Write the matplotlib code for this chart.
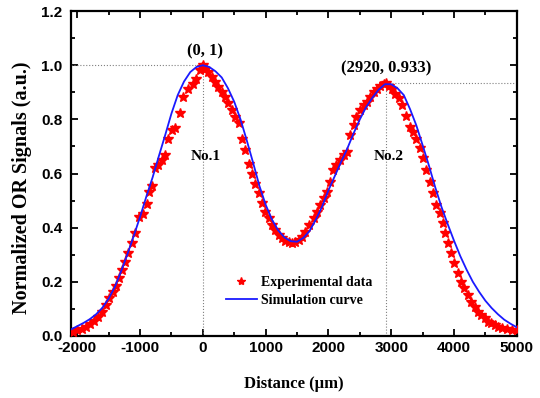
import matplotlib
matplotlib.use("Agg")
import matplotlib.pyplot as plt
from matplotlib.ticker import MultipleLocator, FormatStrFormatter

plt.rcParams['axes.unicode_minus'] = False

# experimental data (distance in um, normalized signal)
exp_x = [-2064, -2000, -1930, -1861, -1797, -1734, -1665, -1601, -1542, -1490,
         -1435, -1383, -1330, -1292, -1239, -1187, -1132, -1080, -1010, -957,
         -893, -852, -805, -761, -708, -654, -601, -549, -494, -442,
         -362, -309, -230, -159, -107, -43, -16, 0, 37, 89,
         144, 196, 249, 303, 356, 408, 462, 515, 568, 622,
         675, 727, 781, 834, 887, 941, 994, 1046, 1100, 1153,
         1206, 1260, 1313, 1365, 1419, 1472, 1525, 1579, 1632, 1684,
         1764, 1818, 1871, 1923, 1978, 2030, 2073, 2126, 2179, 2243,
         2297, 2349, 2402, 2445, 2509, 2561, 2616, 2668, 2721, 2775,
         2828, 2880, 2920, 2960, 3014, 3067, 3120, 3173, 3242, 3295,
         3349, 3402, 3455, 3509, 3561, 3614, 3668, 3721, 3774, 3828,
         3864, 3901, 3955, 4008, 4061, 4115, 4167, 4220, 4274, 4327,
         4380, 4434, 4486, 4539, 4593, 4646, 4699, 4769, 4849, 4928, 5000]
exp_y = [0.016, 0.020, 0.025, 0.034, 0.044, 0.056, 0.071, 0.090, 0.114, 0.139,
         0.163, 0.184, 0.213, 0.244, 0.274, 0.305, 0.342, 0.379, 0.440, 0.452,
         0.489, 0.532, 0.555, 0.619, 0.631, 0.649, 0.668, 0.726, 0.760, 0.770,
         0.822, 0.883, 0.914, 0.932, 0.951, 0.982, 0.994, 1.000, 0.988, 0.975,
         0.957, 0.938, 0.920, 0.901, 0.883, 0.859, 0.834, 0.809, 0.785, 0.729,
         0.686, 0.637, 0.600, 0.563, 0.527, 0.490, 0.459, 0.434, 0.410, 0.391,
         0.373, 0.360, 0.352, 0.347, 0.344, 0.347, 0.354, 0.366, 0.385, 0.410,
         0.434, 0.459, 0.483, 0.508, 0.532, 0.569, 0.613, 0.631, 0.649, 0.668,
         0.680, 0.742, 0.779, 0.809, 0.834, 0.852, 0.865, 0.883, 0.901, 0.914,
         0.923, 0.930, 0.933, 0.925, 0.912, 0.895, 0.880, 0.852, 0.812, 0.772,
         0.754, 0.729, 0.693, 0.656, 0.613, 0.569, 0.527, 0.483, 0.453, 0.416,
         0.379, 0.342, 0.305, 0.268, 0.231, 0.200, 0.176, 0.151, 0.127, 0.108,
         0.090, 0.077, 0.065, 0.053, 0.047, 0.041, 0.034, 0.028, 0.025, 0.022, 0.020]

# simulation curve sampled every 100 um
sim_x = list(range(-2100, 5001, 100))
sim_y = [0.024, 0.036, 0.048, 0.062, 0.080, 0.104, 0.138, 0.182, 0.240, 0.303,
         0.370, 0.440, 0.515, 0.586, 0.665, 0.742, 0.822, 0.890, 0.940, 0.975,
         0.994, 1.000, 0.994, 0.978, 0.955, 0.915, 0.865, 0.800, 0.722, 0.640,
         0.555, 0.485, 0.430, 0.390, 0.364, 0.350, 0.348, 0.362, 0.388, 0.430,
         0.478, 0.538, 0.590, 0.642, 0.692, 0.748, 0.800, 0.845, 0.880, 0.910,
         0.930, 0.930, 0.915, 0.890, 0.838, 0.778, 0.705, 0.630, 0.550, 0.477,
         0.413, 0.352, 0.295, 0.245, 0.200, 0.163, 0.130, 0.103, 0.080, 0.060,
         0.045, 0.032]

peaks_x = [0, 2920]
peaks_y = [1.0, 0.933]
peak_labels = ["(0, 1)", "(2920, 0.933)"]
peak_names = ["No.1", "No.2"]

serif = 'Liberation Serif'
sans = 'Liberation Sans'

fig = plt.figure(figsize=(5.4, 3.98), dpi=100)
ax = fig.add_axes([0.1315, 0.156, 0.8255, 0.816])

xmin, xmax = -2100, 5000
# guide lines
ax.plot([xmin, peaks_x[0]], [peaks_y[0], peaks_y[0]], ls=':', color='gray', lw=0.8)
ax.plot([peaks_x[1], xmax], [peaks_y[1], peaks_y[1]], ls=':', color='gray', lw=0.8)
for px, py in zip(peaks_x, peaks_y):
    ax.plot([px, px], [0, py], ls=':', color='gray', lw=0.8)

ax.plot(exp_x, exp_y, ls='none', marker='*', ms=7.5, color='red',
        markeredgecolor='red', label='Experimental data', zorder=3)
ax.plot(sim_x, sim_y, color='#1a1aff', lw=1.3, label='Simulation curve', zorder=4)

ax.text(40, 1.05, peak_labels[0], ha='center', va='center',
        fontsize=12, fontweight='bold', family=serif)
ax.text(2920, 0.99, peak_labels[1], ha='center', va='center',
        fontsize=12, fontweight='bold', family=serif)
ax.text(40, 0.662, peak_names[0], ha='center', va='center',
        fontsize=11, fontweight='bold', family=serif)
ax.text(2960, 0.662, peak_names[1], ha='center', va='center',
        fontsize=11, fontweight='bold', family=serif)

ax.set_xlim(xmin, xmax)
ax.set_ylim(0, 1.2)
ax.xaxis.set_major_locator(MultipleLocator(1000))
ax.xaxis.set_minor_locator(MultipleLocator(500))
ax.yaxis.set_major_locator(MultipleLocator(0.2))
ax.yaxis.set_minor_locator(MultipleLocator(0.1))
ax.yaxis.set_major_formatter(FormatStrFormatter('%.1f'))
ax.tick_params(which='both', direction='in', top=True, right=True, width=1.3)
ax.tick_params(which='major', length=5)
ax.tick_params(which='minor', length=3)
ax.tick_params(axis='x', which='major', pad=4)
ax.tick_params(axis='y', which='major', pad=6)
for lab in ax.get_xticklabels() + ax.get_yticklabels():
    lab.set_family(sans)
    lab.set_fontweight('bold')
    lab.set_fontsize(11)
for sp in ax.spines.values():
    sp.set_linewidth(1.6)

ax.set_xlabel('Distance (\u03bcm)', fontsize=12, fontweight='bold', family=serif, labelpad=15)
ax.set_ylabel('Normalized OR Signals (a.u.)', fontsize=14.5, fontweight='bold', family=serif)
ax.yaxis.set_label_coords(-0.087, 0.455)

leg = ax.legend(loc='lower left', bbox_to_anchor=(0.32, 0.05), frameon=False,
                prop={'family': serif, 'weight': 'bold', 'size': 10},
                handlelength=2.2, handletextpad=0.3, labelspacing=0.4,
                markerscale=0.8)

fig.savefig('out.png', dpi=100)
